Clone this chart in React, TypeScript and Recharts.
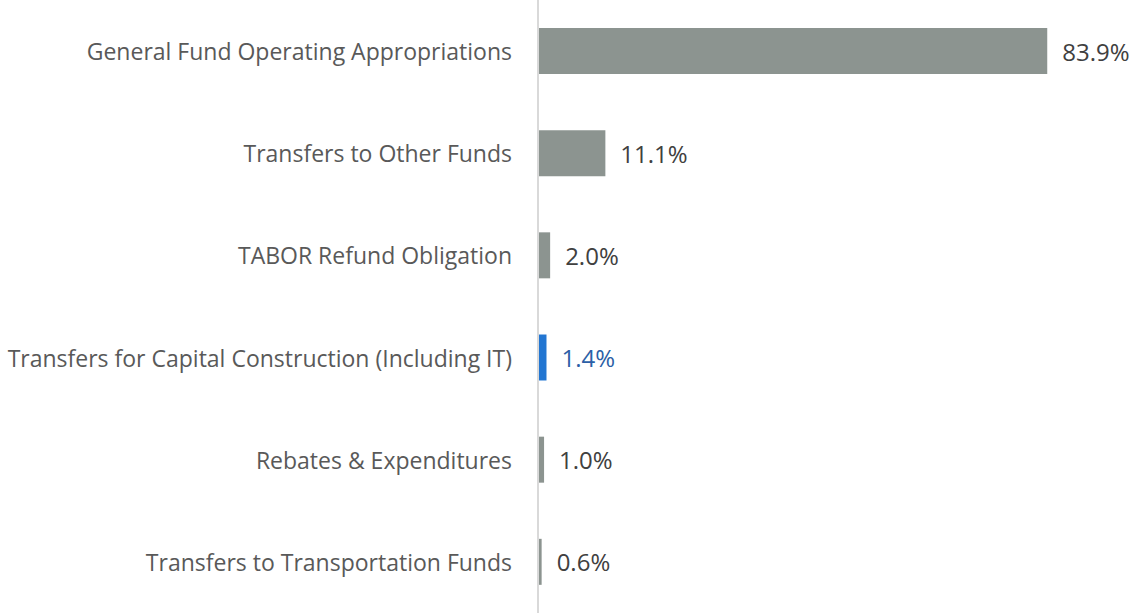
import { BarChart, Bar, XAxis, YAxis, Cell, LabelList, ReferenceLine } from "recharts";

const categories = [
  "General Fund Operating Appropriations",
  "Transfers to Other Funds",
  "TABOR Refund Obligation",
  "Transfers for Capital Construction (Including IT)",
  "Rebates & Expenditures",
  "Transfers to Transportation Funds",
];

const shares = [83.9, 11.1, 2.0, 1.4, 1.0, 0.6];

const highlighted = "Transfers for Capital Construction (Including IT)";

const data = categories.map((name, i) => ({ name, share: shares[i] }));

const GRAY = "#8c9490";
const BLUE = "#2276d2";
const FONT = "Open Sans";
const TICK_SIZE = 23;
const MAX_TICK_W = 512;

let ctx: CanvasRenderingContext2D | null = null;
const measure = (s: string) => {
  if (!ctx) ctx = document.createElement("canvas").getContext("2d");
  if (!ctx) return 0;
  ctx.font = `${TICK_SIZE}px "${FONT}"`;
  return ctx.measureText(s).width;
};

const CategoryTick = (props: any) => {
  const { x, y, payload } = props;
  const w = measure(payload.value);
  const squeeze = w > MAX_TICK_W;
  return (
    <text
      x={x}
      y={y}
      textAnchor="end"
      dominantBaseline="central"
      fill="#595959"
      fontSize={TICK_SIZE}
      fontFamily={FONT}
      textLength={squeeze ? MAX_TICK_W : undefined}
      lengthAdjust={squeeze ? "spacingAndGlyphs" : undefined}
    >
      {payload.value}
    </text>
  );
};

const renderLabel = (props: any) => {
  const { x, y, width, height, value, index } = props;
  const isHi = categories[index] === highlighted;
  return (
    <text
      x={x + width + 15}
      y={y + height / 2}
      dominantBaseline="central"
      fill={isHi ? "#2c5fa6" : "#404040"}
      fontSize={24}
      fontFamily={FONT}
    >
      {`${Number(value).toFixed(1)}%`}
    </text>
  );
};

export default function App() {
  document.body.style.margin = "0";
  return (
    <div style={{ background: "#fff", width: 1131, height: 613 }}>
      <BarChart
        width={1131}
        height={613}
        data={data}
        layout="vertical"
        margin={{ top: 0, right: 0, bottom: 0, left: 0 }}
      >
        <XAxis type="number" domain={[0, 97.7]} hide />
        <YAxis
          type="category"
          dataKey="name"
          width={538}
          tickLine={false}
          axisLine={false}
          tickMargin={20}
          tick={<CategoryTick />}
          interval={0}
        />
        <ReferenceLine x={0} stroke="#d9d9d9" strokeWidth={2} />
        <Bar dataKey="share" barSize={46} isAnimationActive={false}>
          {data.map((d) => (
            <Cell key={d.name} fill={d.name === highlighted ? BLUE : GRAY} />
          ))}
          <LabelList dataKey="share" content={renderLabel} />
        </Bar>
      </BarChart>
    </div>
  );
}
